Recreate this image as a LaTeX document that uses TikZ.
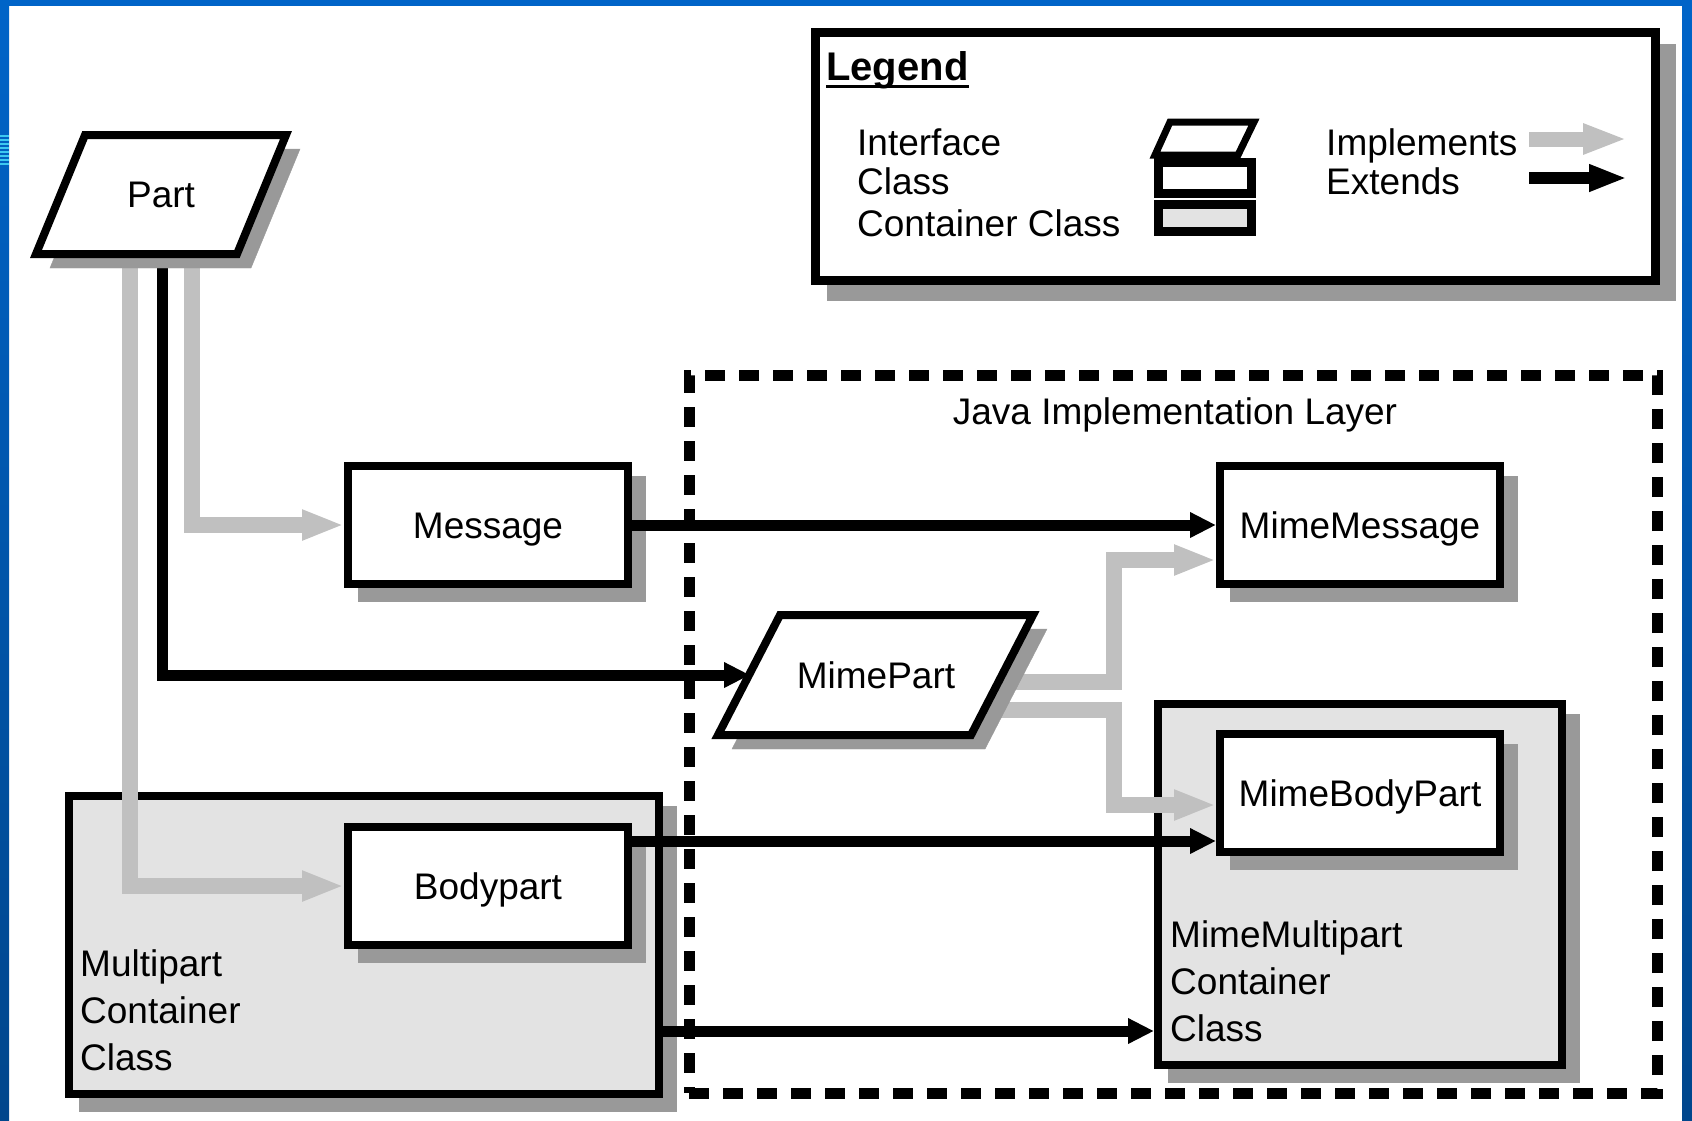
\documentclass[tikz,border=0pt]{standalone}
\usepackage{fontspec}
\setmainfont{Liberation Sans}
\usetikzlibrary{arrows.meta,calc}
\pgfdeclarelayer{bg}
\pgfdeclarelayer{conn}
\pgfsetlayers{bg,conn,main}

\definecolor{bluebar}{HTML}{0064C8}
\definecolor{bluedark}{HTML}{00468C}
\definecolor{stripe}{HTML}{3CC8F0}
\definecolor{implgrey}{HTML}{C0C0C0}
\definecolor{shadowgrey}{HTML}{999999}
\definecolor{contfill}{HTML}{E3E3E3}

\tikzset{
  lbl/.style={font=\fontsize{37}{47}\selectfont, inner sep=0pt, text height=26.5pt, text depth=0pt},
  conttxt/.style={font=\fontsize{37}{47}\selectfont, inner sep=0pt, align=left, anchor=north west},
  shadowed/.style={preaction={fill=shadowgrey, draw=shadowgrey, transform canvas={shift={(#1,-#1)}}}},
  shadowed/.default=14pt,
  classbox/.style={draw=black, line width=8pt, fill=white, minimum width=280pt, minimum height=118pt,
    shadowed, lbl},
  contbox/.style={draw=black, line width=8pt, fill=contfill, shadowed, inner sep=0pt},
  ifaceshape/.style={draw=black, line width=8pt, fill=white, line join=miter, shadowed},
  implarrow/.style={draw=implgrey, line width=16pt, -{Triangle[length=42pt,width=28pt]}},
  extarrow/.style={draw=black, line width=11pt, -{Triangle[length=26pt,width=24pt]}},
  layerbox/.style={draw=black, line width=11pt, dash pattern=on 20pt off 14pt, inner sep=0pt},
}

\begin{document}
\begin{tikzpicture}[x=1pt,y=-1pt]
\useasboundingbox (0,0) rectangle (1692,1120);

\begin{pgfonlayer}{bg}
  % page and blue frame
  \fill[white] (0,0) rectangle (1692,1120);
  \shade[top color=bluebar,bottom color=bluedark] (0,0) rectangle (9,1120);
  \shade[top color=bluebar,bottom color=bluedark] (1682,0) rectangle (1692,1120);
  \fill[bluebar] (0,0) rectangle (1692,6);
  \foreach \k in {0,...,7} \draw[stripe, line width=1.5pt] (0,{136+4*\k}) -- (9,{136+4*\k});

  % legend
  \node[draw=black, line width=9pt, fill=white, minimum width=840pt, minimum height=248pt,
        inner sep=0pt, shadowed=16pt] (legend) at (1235,156) {};
  \node[lbl, font=\fontsize{40}{47}\selectfont\bfseries, anchor=base west] (legtitle) at (826,80) {Legend};
  \draw[line width=3pt] ([yshift=-6pt]legtitle.base west) -- ([yshift=-6pt]legtitle.base east);
  \node[lbl, anchor=base west] (lint) at (857,155) {Interface};
  \node[lbl, anchor=base west] (lcls) at (857,194) {Class};
  \node[lbl, anchor=base west] (lcnt) at (857,236) {Container Class};
  \node[lbl, anchor=base west] (limp) at (1326,155) {Implements};
  \node[lbl, anchor=base west] (lext) at (1326,194) {Extends};
  \draw[line width=7pt, fill=white, line join=miter] (1170,122) -- (1254,122) -- (1238,155) -- (1155,155) -- cycle;
  \node[draw=black, line width=9pt, fill=white, minimum width=93pt, minimum height=31pt, inner sep=0pt] (lclassbox) at (1204.5,177.5) {};
  \node[draw=black, line width=9pt, fill=contfill, minimum width=93pt, minimum height=27pt, inner sep=0pt] (lcontbox) at (1204.5,217.5) {};
  \coordinate (limpA) at (1529,139);
  \coordinate (limpB) at (1627,139);
  \coordinate (lextA) at (1529,178);
  \coordinate (lextB) at (1627,178);
  \draw[draw=implgrey, line width=15pt, -{Triangle[length=44pt,width=28pt]}] (limpA) -- (limpB);
  \draw[draw=black, line width=12pt, -{Triangle[length=38pt,width=25pt]}] (lextA) -- (lextB);

  % Java implementation layer
  \node[layerbox, minimum width=968pt, minimum height=718pt] (javalayer) at (1173,734) {};
  \node[lbl] (javatitle) at (1175,411) {Java Implementation Layer};

  % containers
  \node[contbox, minimum width=590pt, minimum height=298pt] (multipart) at (364,945) {};
  \node[conttxt] (multitxt) at (80,949.5) {Multipart\\Container\\Class};
  \node[contbox, minimum width=404pt, minimum height=361pt] (mimemultipart) at (1360,884.5) {};
  \node[conttxt] (mimemultitxt) at (1170,920.5) {MimeMultipart\\Container\\Class};

  % classes
  \node[classbox] (message) at (488,525) {Message};
  \node[classbox] (mimemessage) at (1360,525) {MimeMessage};
  \node[classbox] (bodypart) at (488,886) {Bodypart};
  \node[classbox] (mimebodypart) at (1360,793) {MimeBodyPart};
\end{pgfonlayer}

% interfaces
\draw[ifaceshape] (85,135) -- (286,135) -- (237,254) -- (36,254) -- cycle;
\node[lbl] (part) at (161,194.5) {Part};
\draw[ifaceshape] (780,615) -- (1033,615) -- (971,735) -- (718,735) -- cycle;
\node[lbl] (mimepart) at (876,675) {MimePart};

\begin{pgfonlayer}{conn}
  % from Part
  \draw[implarrow] ($(part.center)+(-31,60)$) |- (bodypart.west);
  \draw[implarrow] ($(part.center)+(31,60)$) |- (message.west);
  \draw[extarrow] ($(part.center)+(1,60)$) |- ($(mimepart.center)+(-126,0)$);
  % Message -> MimeMessage
  \draw[extarrow] (message.east) -- (mimemessage.west);
  % MimePart implementations
  \coordinate (mmIn) at ([yshift=-35pt]mimemessage.west);
  \coordinate (mbIn) at ([yshift=-12pt]mimebodypart.west);
  \draw[implarrow] ($(mimepart.center)+(122,7)$) -- ++(116,0) |- (mmIn);
  \draw[implarrow] ($(mimepart.center)+(108,35)$) -- ++(130,0) |- (mbIn);
  % Bodypart -> MimeBodyPart
  \coordinate (bpOut) at ([yshift=45pt]bodypart.east);
  \draw[extarrow] (bpOut) -- (bpOut -| mimebodypart.west);
  % Multipart -> MimeMultipart
  \coordinate (mpOut) at ([yshift=-86pt]multipart.east);
  \draw[extarrow] (mpOut) -- (mpOut -| mimemultipart.west);
\end{pgfonlayer}
\end{tikzpicture}
\end{document}
